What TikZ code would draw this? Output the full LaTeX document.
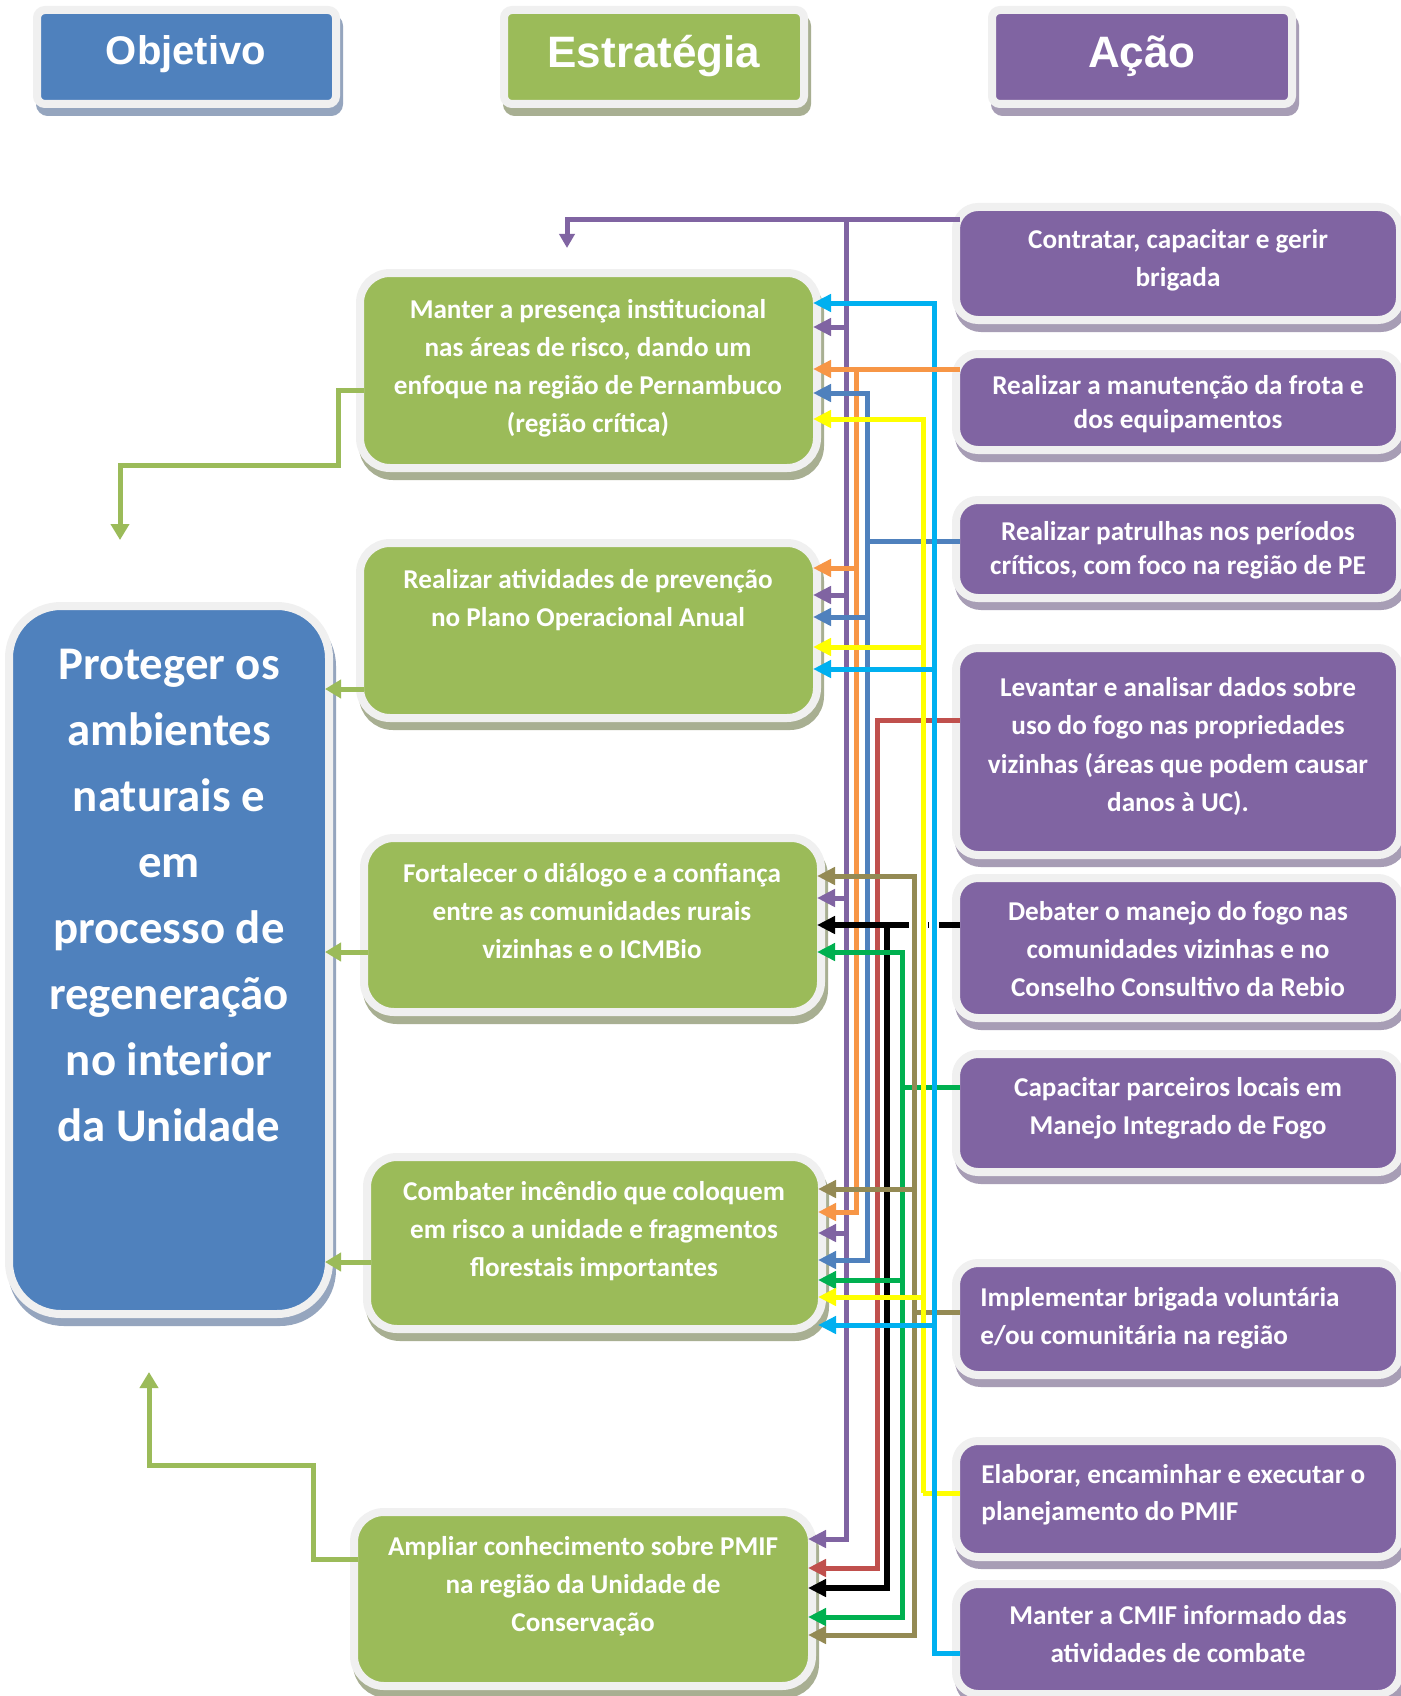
\documentclass[tikz,border=0pt]{standalone}
\usepackage{fontspec}
\setmainfont{Carlito}
\newfontfamily\hdfont{Liberation Sans}
\usetikzlibrary{arrows.meta}
\definecolor{cBlue}{HTML}{4F81BD}
\definecolor{cGreen}{HTML}{9BBB59}
\definecolor{cPurple}{HTML}{8064A2}
\definecolor{cBorder}{HTML}{F0F0F0}
\definecolor{sBlue}{HTML}{95A5BE}
\definecolor{sGreen}{HTML}{A8AF92}
\definecolor{sPurple}{HTML}{A79DB5}
\definecolor{lPurple}{HTML}{8064A2}
\definecolor{lOrange}{HTML}{F79646}
\definecolor{lBlue}{HTML}{4F81BD}
\definecolor{lRed}{HTML}{C0504D}
\definecolor{lGreen}{HTML}{00B050}
\definecolor{lOlive}{HTML}{948A54}
\definecolor{lYellow}{HTML}{FFFF00}
\definecolor{lCyan}{HTML}{00B0F0}
\newcommand\mkbox[7]{%
  \node[#1, rounded corners=#7, minimum width={(#5-#3+8)*0.5pt}, minimum height={(#6-#4+8)*0.5pt}] (#2) at ({(#3+#5)/2},{(#4+#6)/2}) {};}
\newcommand\fl{\rule{0pt}{11pt}}
\tikzset{
  boxbase/.style={draw=cBorder, line width=4pt, inner sep=0pt, outer sep=-2pt},
  sh/.style={preaction={draw=#1, fill=#1, line width=4pt, transform canvas={shift={(1.5pt,-4pt)}}}},
  bbox/.style={boxbase, fill=cBlue, sh=sBlue},
  gbox/.style={boxbase, fill=cGreen, sh=sGreen},
  pbox/.style={boxbase, fill=cPurple, sh=sPurple},
  wtxt/.style={text=white, inner sep=0pt},
  hdtxt/.style={wtxt, anchor=base, font=\hdfont\bfseries\fontsize{#1}{#1}\selectfont},
  btxt/.style={wtxt, align=center, anchor=north, font=\bfseries\fontsize{13.6}{#1}\selectfont},
  ltxt/.style={wtxt, align=left, anchor=north west, font=\bfseries\fontsize{13.6}{#1}\selectfont},
  conn/.style={line width=2.5pt, draw=#1},
  tip/.style={-{Triangle[length=9pt,width=8.5pt]}},
  tips/.style={{Triangle[length=9pt,width=8.5pt]}-{Triangle[length=9pt,width=8.5pt]}},
  rtip/.style={{Triangle[length=9pt,width=8.5pt]}-},
  gconn/.style={line width=2.5pt, draw=cGreen, -{Triangle[length=8pt,width=9pt]}},
  halo/.style={draw=white, line width=5pt},
}
\begin{document}
\begin{tikzpicture}[x=0.5pt, y=-0.5pt]
\useasboundingbox[fill=white] (0,0) rectangle (1401,1696);

% headers
\mkbox{bbox}{hObj}{41}{14}{332}{100}{4pt}
\mkbox{gbox}{hEst}{508}{14}{800}{100}{4pt}
\mkbox{pbox}{hAca}{996}{14}{1288}{100}{4pt}
\node[hdtxt=20] (hObjT) at (186,65) {Objetivo};
\node[hdtxt=22] (hEstT) at (654,68) {Estratégia};
\node[hdtxt=22] (hAcaT) at (1142,68) {Ação};

% objective
\mkbox{bbox}{obj}{13}{610}{325}{1310}{26pt}
\node[wtxt, align=center, anchor=north, font=\bfseries\fontsize{23.4}{33}\selectfont] (objT) at (169,639)
  {\rule{0pt}{20pt}Proteger os\\ambientes\\naturais e\\em\\processo de\\regeneração\\no interior\\da Unidade};

% strategies
\mkbox{gbox}{s1}{364}{277}{813}{464}{15pt}
\mkbox{gbox}{s2}{364}{547}{813}{714}{15pt}
\mkbox{gbox}{s3}{368}{842}{817}{1008}{15pt}
\mkbox{gbox}{s4}{371}{1161}{818}{1325}{15pt}
\mkbox{gbox}{s5}{358}{1516}{808}{1682}{15pt}
\node[btxt=19] (s1T) at (588,296) {\fl Manter a presença institucional\\nas áreas de risco, dando um\\enfoque na região de Pernambuco\\(região crítica)};
\node[btxt=19] (s2T) at (588,566) {\fl Realizar atividades de prevenção\\no Plano Operacional Anual};
\node[btxt=19] (s3T) at (592,860) {\fl Fortalecer o diálogo e a confiança\\entre as comunidades rurais\\vizinhas e o ICMBio};
\node[btxt=19] (s4T) at (594,1178) {\fl Combater incêndio que coloquem\\em risco a unidade e fragmentos\\florestais importantes};
\node[btxt=19] (s5T) at (583,1533) {\fl Ampliar conhecimento sobre PMIF\\na região da Unidade de\\Conservação};

% actions
\mkbox{pbox}{a1}{960}{211}{1396}{316}{11pt}
\mkbox{pbox}{a2}{960}{358}{1396}{446}{11pt}
\mkbox{pbox}{a3}{960}{504}{1396}{594}{11pt}
\mkbox{pbox}{a4}{960}{652}{1396}{851}{11pt}
\mkbox{pbox}{a5}{960}{882}{1396}{1014}{11pt}
\mkbox{pbox}{a6}{960}{1058}{1396}{1168}{11pt}
\mkbox{pbox}{a7}{960}{1267}{1396}{1371}{11pt}
\mkbox{pbox}{a8}{960}{1445}{1396}{1553}{11pt}
\mkbox{pbox}{a9}{960}{1588}{1396}{1690}{11pt}
\node[btxt=19] (a1T) at (1178,226) {\fl Contratar, capacitar e gerir\\brigada};
\node[btxt=17] (a2T) at (1178,372) {\fl Realizar a manutenção da frota e\\dos equipamentos};
\node[btxt=17] (a3T) at (1178,518) {\fl Realizar patrulhas nos períodos\\críticos, com foco na região de PE};
\node[btxt=19.25] (a4T) at (1178,674) {\fl Levantar e analisar dados sobre\\uso do fogo nas propriedades\\vizinhas (áreas que podem causar\\danos à UC).};
\node[btxt=19] (a5T) at (1178,898) {\fl Debater o manejo do fogo nas\\comunidades vizinhas e no\\Conselho Consultivo da Rebio};
\node[btxt=19] (a6T) at (1178,1074) {\fl Capacitar parceiros locais em\\Manejo Integrado de Fogo};
\node[ltxt=19] (a7T) at (980,1284) {\fl Implementar brigada voluntária\\e/ou comunitária na região};
\node[ltxt=18.5] (a8T) at (981,1461) {\fl Elaborar, encaminhar e executar o\\planejamento do PMIF};
\node[btxt=19] (a9T) at (1178,1602) {\fl Manter a CMIF informado das\\atividades de combate};

% strategy -> objective
\coordinate (o1) at (120,540);
\coordinate (o5) at (149,1372);
\draw[gconn] (s1.west |- 0,390) -- (338,390) -- (338,465) -- (120,465) -- (o1);
\draw[gconn] (s2.west |- 0,689) -- (obj.east |- 0,689);
\draw[gconn] (s3.west |- 0,952) -- (obj.east |- 0,952);
\draw[gconn] (s4.west |- 0,1262) -- (obj.east |- 0,1262);
\draw[gconn] (s5.west |- 0,1559) -- (313,1559) -- (313,1465) -- (149,1465) -- (o5);

% action -> strategy
% source horizontals under other lines
\draw[conn=lBlue] (a3.west |- 0,541) -- (867,541);
\draw[conn=lGreen] (a6.west |- 0,1087) -- (902,1087);
\draw[conn=lOlive] (a7.west |- 0,1312) -- (914,1312);
\draw[conn=lYellow] (a8.west |- 0,1493) -- (923,1493);

% purple
\coordinate (pTop) at (567,248);
\draw[conn=lPurple, -{Triangle[length=7pt,width=7.5pt]}] (a1.west |- 0,220) -- (567,220) -- (pTop);
\draw[conn=lPurple, tip] (846,220) -- (846,1539) -- (s5.east |- 0,1539);
\foreach \yy/\nn in {327/s1, 595/s2, 898/s3, 1233/s4}
  \draw[conn=lPurple, tip] (846,\yy) -- (\nn.east |- 0,\yy);
% orange
\draw[conn=lOrange, tip] (856,369) -- (856,1212) -- (s4.east |- 0,1212);
\draw[conn=lOrange, tip] (856,568) -- (s2.east |- 0,568);
% blue
\draw[conn=lBlue, tips] (s1.east |- 0,393) -- (867,393) -- (867,1260) -- (s4.east |- 0,1260);
\draw[conn=lBlue, tip] (867,617) -- (s2.east |- 0,617);
% red
\draw[conn=lRed, tip] (a4.west |- 0,720) -- (877,720) -- (877,1568) -- (s5.east |- 0,1568);
% black
\draw[conn=black, line width=3pt, tip] (a5.west |- 0,925) -- (s3.east |- 0,925);
\draw[halo] (914,913) -- (914,937);
\draw[halo] (923,913) -- (923,937);
\draw[halo] (934,913) -- (934,937);
\draw[conn=black, line width=3pt, tip] (887,925) -- (887,1588) -- (s5.east |- 0,1588);
% green
\draw[conn=lGreen, tips] (s3.east |- 0,952) -- (902,952) -- (902,1617) -- (s5.east |- 0,1617);
\draw[conn=lGreen, tip] (902,1280) -- (s4.east |- 0,1280);
% olive
\draw[conn=lOlive, tips] (s3.east |- 0,876) -- (914,876) -- (914,1635) -- (s5.east |- 0,1635);
\draw[conn=lOlive, tip] (914,1189) -- (s4.east |- 0,1189);
% yellow
\draw[conn=lYellow, rtip] (s1.east |- 0,419) -- (923,419) -- (923,1493);
\draw[conn=lYellow, tip] (923,647) -- (s2.east |- 0,647);
\draw[conn=lYellow, tip] (923,1297) -- (s4.east |- 0,1297);
% cyan
\draw[conn=lCyan, rtip] (s1.east |- 0,303) -- (934,303) -- (934,1653) -- (a9.west |- 0,1653);
\draw[conn=lCyan, tip] (934,669) -- (s2.east |- 0,669);
\draw[conn=lCyan, tip] (934,1325) -- (s4.east |- 0,1325);
% orange source on top
\draw[conn=lOrange, tip] (a2.west |- 0,369) -- (s1.east |- 0,369);
\end{tikzpicture}
\end{document}
